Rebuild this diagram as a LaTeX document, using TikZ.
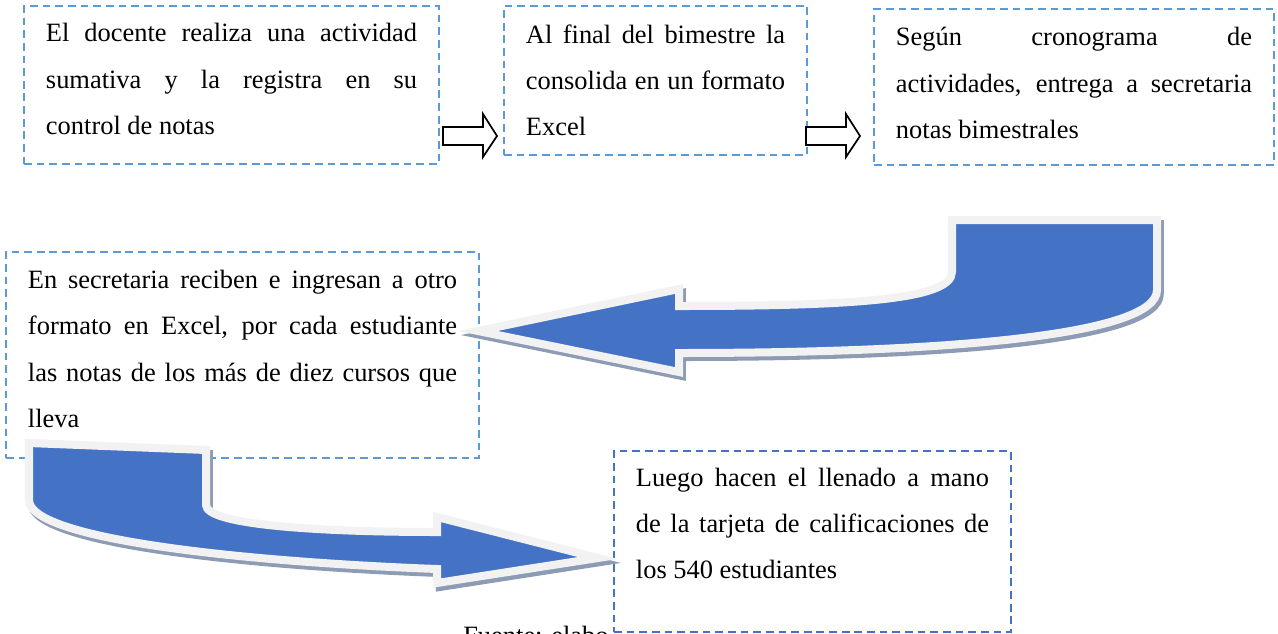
\documentclass[tikz,border=0pt]{standalone}
\usepackage{fontspec}
\setmainfont{Liberation Serif}

\definecolor{bordeazul}{HTML}{5B9BD5}
\definecolor{bordeoscuro}{HTML}{4472C4}
\definecolor{azulflecha}{HTML}{4472C4}
\definecolor{blancoborde}{HTML}{F2F2F2}
\definecolor{sombragris}{HTML}{8D9BB4}

\tikzset{
    caja/.style={draw=bordeazul, line width=1.4pt, dash pattern=on 5.5pt off 3.5pt,
        fill=white, anchor=north west, inner xsep=0.55cm, align=justify,
        font={\fontsize{18.8}{32.9}\selectfont\hyphenpenalty=10000\tolerance=10000},
        execute at end node={\par\vskip#1\hrule height 0pt}},
    caja/.default=0.3cm,
    flechita/.style={draw=black, line width=1.2pt, fill=white},
    flechon/.style={draw=blancoborde, line width=0.2cm, fill=azulflecha,
        preaction={draw=sombragris, fill=sombragris, line width=0.2cm,
            transform canvas={xshift=0.07cm, yshift=-0.1cm}}}
}

\begin{document}
\begin{tikzpicture}[x=0.025cm, y=-0.025cm]
    \useasboundingbox (0,0) rectangle (1278,633);

    \node[anchor=base west, inner sep=0, font=\fontsize{18.8}{32.9}\selectfont] (fuente) at (463,644) {Fuente: elabo};

    \node[caja, text width=9.275cm, minimum height=3.95cm] (paso1) at (23,5)
        {El docente realiza una actividad\linebreak sumativa y la registra en su\linebreak control de notas};
    \node[caja=0cm, text width=6.475cm, minimum height=3.725cm] (paso2) at (503,5)
        {Al final del bimestre la\linebreak consolida en un formato\linebreak Excel};
    \node[caja=0.2cm, text width=8.9cm, minimum height=3.9cm] (paso3) at (873,8)
        {Según cronograma de\linebreak actividades, entrega a secretaria\linebreak notas bimestrales};
    \node[caja, text width=10.725cm, minimum height=5.15cm] (paso4) at (5,251)
        {En secretaria reciben e ingresan a otro\linebreak formato en Excel, por cada estudiante\linebreak las notas de los más de diez cursos que\linebreak lleva};
    \node[caja=0.9cm, draw=bordeoscuro, text width=8.825cm, minimum height=4.525cm] (paso5) at (613,450)
        {Luego hacen el llenado a mano\linebreak de la tarjeta de calificaciones de\linebreak los 540 estudiantes};

    \foreach \xa in {443,806}
        \draw[flechita] (\xa,127) -- ++(40,0) -- ++(0,-13) -- ++(14,22) -- ++(-14,21) -- ++(0,-12) -- ++(-40,0) -- cycle;

    \draw[flechon] (952,220) -- (1157,220) -- (1157,290)
        .. controls (1157,335) and (950,353) .. (679,353)
        -- (679,372) -- (478,331) -- (679,289) -- (679,306)
        .. controls (850,306) and (952,300) .. (952,272) -- cycle;
    \draw[flechon] (29,443) -- (206,450) -- (206,505)
        .. controls (206,525) and (320,532) .. (437,532)
        -- (437,517) -- (598,558) -- (437,583) -- (437,569)
        .. controls (250,562) and (29,540) .. (29,500) -- cycle;
\end{tikzpicture}
\end{document}
